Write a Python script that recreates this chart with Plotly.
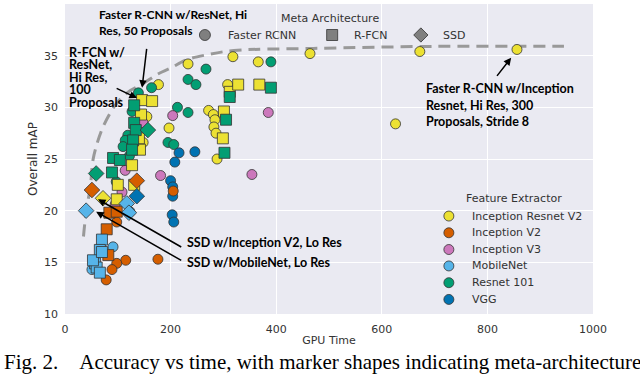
import plotly.graph_objects as go

# feature extractors (legend order) and their colours
fe_keys = ['irv2', 'iv2', 'iv3', 'mob', 'r101', 'vgg']
fe_names = ['Inception Resnet V2', 'Inception V2', 'Inception V3', 'MobileNet', 'Resnet 101', 'VGG']
fe_colors = ['#ECE133', '#D55E00', '#CC78BC', '#56B4E9', '#029E73', '#0173B2']

# Faster RCNN (circles)
frcnn_time = [233, 318, 366, 464, 672, 856, 626, 177, 308, 197, 272, 281, 284, 282, 286, 288, 155, 148,
              267, 390, 233, 248, 164, 139, 213, 233, 195, 206, 127, 119, 114, 110, 97, 122,
              204, 385, 354, 181, 148, 114, 95, 108,
              216, 246, 208, 200, 204, 204, 203, 206,
              205, 176, 115, 98, 89, 78, 98,
              91, 51, 123]
frcnn_map = [34.2, 34.9, 34.4, 35.2, 35.4, 35.6, 28.4, 32.2, 32.2, 28.0, 29.7, 29.3, 28.8, 28.1, 27.5, 25.0, 29.1, 26.6,
             33.7, 34.4, 32.7, 32.2, 31.9, 31.4, 30.0, 29.5, 26.6, 26.4, 29.6, 27.3, 26.8, 26.2, 22.8, 25.3,
             29.2, 29.5, 23.5, 23.4, 28.5, 23.9, 20.6, 21.8,
             25.6, 25.7, 24.7, 22.9, 22.3, 21.4, 19.6, 18.9,
             21.9, 15.3, 15.2, 14.9, 14.3, 13.3, 18.9,
             16.5, 14.3, 19.9]
frcnn_fe = ['irv2'] * 18 + ['r101'] * 16 + ['iv3'] * 8 + ['vgg'] * 8 + ['iv2'] * 7 + ['mob'] * 3

# R-FCN (squares)
rfcn_time = [312, 328, 368, 301, 299, 146, 165, 144, 140, 142, 127, 100, 131, 98,
             312, 390, 305, 302, 131, 131, 134, 129, 127, 91, 104, 89,
             84, 98, 79, 82,
             70, 66, 57, 60, 66, 53, 70]
rfcn_map = [31.5, 32.2, 32.2, 29.6, 27.0, 30.7, 30.6, 29.3, 27.0, 25.9, 24.4, 22.5, 22.5, 21.1,
            31.0, 31.9, 28.8, 25.6, 30.2, 28.5, 27.8, 26.8, 25.9, 25.1, 24.9, 23.7,
            19.8, 19.9, 18.2, 15.7,
            17.2, 16.2, 14.9, 14.5, 14.0, 15.2, 16.0]
rfcn_fe = ['irv2'] * 14 + ['r101'] * 12 + ['iv2'] * 4 + ['mob'] * 7

# SSD (diamonds)
ssd_time = [59, 157, 51, 136, 72, 40, 117, 121, 136]
ssd_map = [23.6, 27.8, 22.0, 22.9, 21.2, 20.0, 20.7, 19.8, 21.4]
ssd_fe = ['r101', 'r101', 'iv2', 'iv2', 'irv2', 'mob', 'mob', 'mob', 'vgg']

# dashed optimality frontier
frontier_time = [35, 38, 44, 48, 53, 62, 72, 85, 98, 120, 148, 175, 200, 230, 270, 320, 470, 700, 945]
frontier_map = [17.5, 19.0, 21.1, 22.3, 24.9, 26.7, 28.1, 29.4, 30.4, 31.5, 32.3, 33.2, 33.8, 34.6, 35.1, 35.5, 35.7, 35.9, 35.9]

arch_names = ['Faster RCNN', 'R-FCN', 'SSD']
arch_symbols = ['circle', 'square', 'diamond']
arch_sizes = [10, 11, 12]

color_of = dict(zip(fe_keys, fe_colors))
sans = 'DejaVu Sans'
bold = 'Lato'
grey_txt = '#333333'
edge = dict(color='#333333', width=0.8)

fig = go.Figure()

fig.add_trace(go.Scatter(
    x=frontier_time, y=frontier_map, mode='lines',
    line=dict(color='#999999', width=3, dash='12px,7px', shape='spline'),
    showlegend=False, hoverinfo='skip'
))

arch_data = [(frcnn_time, frcnn_map, frcnn_fe), (rfcn_time, rfcn_map, rfcn_fe), (ssd_time, ssd_map, ssd_fe)]
for (xs, ys, fes), name, sym, size in zip(arch_data, arch_names, arch_symbols, arch_sizes):
    fig.add_trace(go.Scatter(
        x=xs, y=ys, mode='markers', name=name,
        marker=dict(symbol=sym, size=size, color=[color_of[f] for f in fes], line=edge),
        showlegend=False
    ))

# hand-placed legends on an overlay axis spanning the plot area (0..1)
meta_key_x = [0.265, 0.506, 0.674]
meta_key_y = 0.9
meta_txt_x = [0.305, 0.5436, 0.712]
fig.add_trace(go.Scatter(
    x=meta_key_x, y=[meta_key_y] * 3, xaxis='x2', yaxis='y2', mode='markers',
    marker=dict(symbol=arch_symbols, size=11, color='#7f7f7f', line=edge),
    showlegend=False, hoverinfo='skip'
))
fig.add_annotation(xref='x2', yref='y2', x=0.502, y=0.952, text='Meta Architecture', showarrow=False,
                   xanchor='center', yanchor='middle', font=dict(family=sans, size=11, color=grey_txt))
for tx, name in zip(meta_txt_x, arch_names):
    fig.add_annotation(xref='x2', yref='y2', x=tx, y=meta_key_y, text=name, showarrow=False,
                       xanchor='left', yanchor='middle', font=dict(family=sans, size=11, color=grey_txt))

fe_key_x = 0.727
fe_key_y = [0.316, 0.262, 0.208, 0.155, 0.101, 0.047]
fe_txt_x = 0.767
fig.add_trace(go.Scatter(
    x=[fe_key_x] * 6, y=fe_key_y, xaxis='x2', yaxis='y2', mode='markers',
    marker=dict(symbol='circle', size=10, color=fe_colors, line=edge),
    showlegend=False, hoverinfo='skip'
))
fig.add_annotation(xref='x2', yref='y2', x=0.756, y=0.371, text='Feature Extractor', showarrow=False,
                   xanchor='left', yanchor='middle', font=dict(family=sans, size=11, color=grey_txt))
for ty, name in zip(fe_key_y, fe_names):
    fig.add_annotation(xref='x2', yref='y2', x=fe_txt_x, y=ty, text=name, showarrow=False,
                       xanchor='left', yanchor='middle', font=dict(family=sans, size=11, color=grey_txt))

# arrows
arrows = [
    (146, 31.9, 155, 35.8),
    (136, 30.9, 95, 31.9),
    (845, 34.8, 816, 32.9),
    (62.5, 21.1, 223, 16.4),
    (59, 19.9, 223, 15.1),
]
for x, y, ax, ay in arrows:
    fig.add_annotation(x=x, y=y, ax=ax, ay=ay, axref='x', ayref='y', text='',
                       showarrow=True, arrowhead=2, arrowsize=1, arrowwidth=1.5, arrowcolor='black')

# text blocks (one annotation per line)
blocks = [
    (60.6, [38.94, 37.39], ['Faster R-CNN w/ResNet, Hi', 'Res, 50 Proposals'], 12),
    (3.8, [35.35, 34.1, 32.9, 31.7, 30.5], ['R-FCN w/', 'ResNet,', 'Hi Res,', '100', 'Proposals'], 12.5),
    (680, [31.87, 30.2, 28.6], ['Faster R-CNN w/Inception', 'Resnet, Hi Res, 300', 'Proposals, Stride 8'], 12.5),
    (227, [16.9], ['SSD w/Inception V2, Lo Res'], 12.5),
    (227, [15.03], ['SSD w/MobileNet, Lo Res'], 12.5),
]
for x0, ys, lines, fsize in blocks:
    for y, line in zip(ys, lines):
        fig.add_annotation(x=x0, y=y, text='<b>' + line + '</b>', showarrow=False,
                           xanchor='left', yanchor='middle',
                           font=dict(family=bold, size=fsize, color='black'))

# caption
fig.add_annotation(xref='paper', yref='paper', x=-0.119, y=-0.155, xanchor='left', yanchor='middle',
                   text='Fig. 2.\u00a0\u00a0\u00a0\u00a0Accuracy vs time, with marker shapes indicating meta-architecture',
                   showarrow=False, font=dict(family='Liberation Serif', size=21, color='black'))

fig.update_layout(
    width=640, height=374,
    margin=dict(l=65, r=47, t=4, b=60),
    paper_bgcolor='white',
    plot_bgcolor='#EAEAF2',
    font=dict(family=sans, size=11, color=grey_txt),
    showlegend=False,
    xaxis=dict(
        range=[0, 1000], tickvals=[0, 200, 400, 600, 800, 1000], automargin=False,
        showgrid=True, gridcolor='white', gridwidth=1.2, zeroline=False, showline=False,
        ticks='', ticklabelstandoff=7,
        title=dict(text='GPU Time', standoff=1, font=dict(family=sans, size=11)),
    ),
    yaxis=dict(
        range=[10, 40], tickvals=[10, 15, 20, 25, 30, 35, 40], automargin=False,
        showgrid=True, gridcolor='white', gridwidth=1.2, zeroline=False, showline=False,
        ticks='', ticklabelstandoff=6,
        title=dict(text='Overall mAP', standoff=3, font=dict(family=sans, size=12)),
    ),
    xaxis2=dict(range=[0, 1], overlaying='x', visible=False, fixedrange=True),
    yaxis2=dict(range=[0, 1], overlaying='y', visible=False, fixedrange=True),
)

# drop the page's default 8px body margin so the figure sits at the window's corner
fig.write_html('out.html', config={'displayModeBar': False},
               post_script="document.body.style.margin='0';")
